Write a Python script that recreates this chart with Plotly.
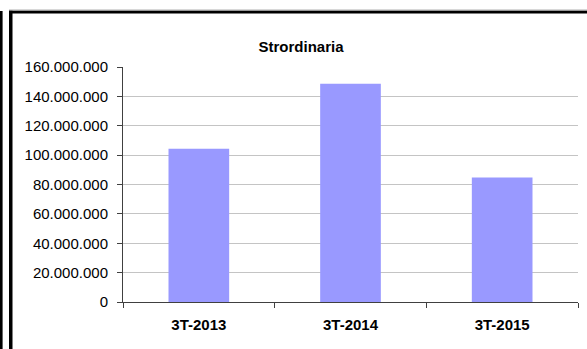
import plotly.graph_objects as go

categories = ["3T-2013", "3T-2014", "3T-2015"]
values = [104300000, 148600000, 84800000]
y_ticks = [0, 20000000, 40000000, 60000000, 80000000, 100000000, 120000000, 140000000, 160000000]
title_text = "Strordinaria"

W, H = 587, 349
L, R, T, B = 123, 9, 67, 47
pw = W - L - R
ph = H - T - B

def px_x(p):
    return (p - L) / pw

def px_y(p):
    return (H - B - p) / ph

fig = go.Figure(go.Bar(x=categories, y=values, marker=dict(color="#9999FF", line=dict(width=0)),
                       hoverinfo="x+y"))

shapes = [
    dict(type="rect", xref="paper", yref="paper", x0=px_x(0), x1=px_x(2.6), y0=px_y(349), y1=px_y(11),
         fillcolor="black", line=dict(width=0), layer="above"),
    dict(type="rect", xref="paper", yref="paper", x0=px_x(9), x1=px_x(12.5), y0=px_y(349), y1=px_y(10.5),
         fillcolor="black", line=dict(width=0), layer="above"),
    dict(type="rect", xref="paper", yref="paper", x0=px_x(9), x1=px_x(587), y0=px_y(13.5), y1=px_y(10.5),
         fillcolor="black", line=dict(width=0), layer="above"),
    dict(type="line", xref="paper", yref="paper", x0=px_x(9), x1=px_x(587), y0=px_y(10), y1=px_y(10),
         line=dict(color="#b0b0b0", width=1), layer="above"),
]

fig.update_layout(
    width=W, height=H,
    margin=dict(l=L, r=R, t=T, b=B),
    paper_bgcolor="white", plot_bgcolor="white",
    separators=",.",
    bargap=0.6,
    showlegend=False,
    font=dict(family="Liberation Sans, Arial, sans-serif", color="black", size=15),
    title=dict(text=title_text, x=301 / W, xanchor="center", xref="container",
               y=1 - 47 / H, yanchor="middle", yref="container",
               font=dict(size=15, weight="bold", color="black")),
    shapes=shapes,
    xaxis=dict(
        showline=True, linecolor="#404040", linewidth=1,
        ticks="outside", ticklen=5, tickcolor="#404040", tickson="boundaries",
        tickfont=dict(size=15, weight="bold"),
        ticklabelstandoff=9,
        showgrid=False, fixedrange=True,
    ),
    yaxis=dict(
        range=[0, 160000000], tickvals=y_ticks, tickformat=",d",
        showline=True, linecolor="#404040", linewidth=1,
        ticks="outside", ticklen=5, tickcolor="#404040",
        showgrid=True, gridcolor="#c4c4c4", gridwidth=1,
        zeroline=False, tickfont=dict(size=15),
        ticklabelstandoff=6, fixedrange=True,
    ),
)

fig.write_html(
    "out.html",
    config={"displayModeBar": False},
    post_script="document.body.style.margin='0';document.body.style.overflow='hidden';",
)
